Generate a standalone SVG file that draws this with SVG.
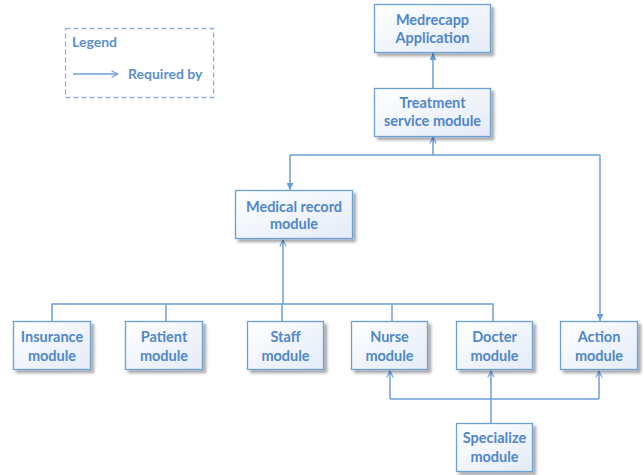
<svg xmlns="http://www.w3.org/2000/svg" width="643" height="475" viewBox="0 0 643 475">
  <style>
    .box { fill: url(#boxFill); stroke: #6b9fd8; stroke-width: 1.3; filter: url(#shadow); }
    .lbl { font-family: Lato, "Open Sans", sans-serif; font-weight: bold; font-size: 14.5px; fill: #4f87ca; text-anchor: middle; }
    .wire { fill: none; stroke: #6b9fd8; stroke-width: 1.5; }
    .legend-txt { font-family: Lato, "Open Sans", sans-serif; font-weight: bold; font-size: 14px; fill: #5a8fcf; }
  </style>
  <defs>
    <linearGradient id="boxFill" x1="0" y1="0" x2="1" y2="1">
      <stop offset="0" stop-color="#ffffff"/>
      <stop offset="1" stop-color="#e3ebf7"/>
    </linearGradient>
    <filter id="shadow" x="-10%" y="-10%" width="130%" height="140%">
      <feGaussianBlur in="SourceAlpha" stdDeviation="1.5"/>
      <feOffset dx="2.5" dy="2.5" result="off"/>
      <feComponentTransfer><feFuncA type="linear" slope="0.35"/></feComponentTransfer>
      <feMerge><feMergeNode/><feMergeNode in="SourceGraphic"/></feMerge>
    </filter>
    <marker id="solid" viewBox="0 0 10 10" refX="10" refY="5" markerWidth="7" markerHeight="7" orient="auto" markerUnits="userSpaceOnUse">
      <path d="M0,0 L10,5 L0,10 z" fill="#6b9fd8"/>
    </marker>
    <marker id="open" viewBox="0 0 10 10" refX="9" refY="5" markerWidth="8" markerHeight="8" orient="auto" markerUnits="userSpaceOnUse">
      <path d="M1,1 L9,5 L1,9" fill="none" stroke="#6b9fd8" stroke-width="1.3"/>
    </marker>
  </defs>

  <!-- legend -->
  <g id="legend">
    <rect x="65.5" y="28.5" width="148" height="69" fill="none" stroke="#8fb3e0" stroke-width="1.3" stroke-dasharray="5,3"/>
    <text class="legend-txt" x="72" y="47">Legend</text>
    <line x1="73" y1="74" x2="118" y2="74" class="wire" stroke-width="1.2" marker-end="url(#open)"/>
    <text class="legend-txt" x="128" y="79">Required by</text>
  </g>

  <!-- connectors -->
  <g id="connectors">
    <line class="wire" x1="433" y1="88" x2="433" y2="53" marker-end="url(#solid)"/>
    <polyline class="wire" points="290,155 600,155"/>
    <line class="wire" x1="433" y1="155" x2="433" y2="137" marker-end="url(#open)"/>
    <polyline class="wire" points="290,155 290,190" marker-end="url(#solid)"/>
    <polyline class="wire" points="600,155 600,321" marker-end="url(#solid)"/>
    <polyline class="wire" points="52,321 52,304 493,304 493,321"/>
    <line class="wire" x1="166" y1="304" x2="166" y2="321"/>
    <line class="wire" x1="282" y1="304" x2="282" y2="321"/>
    <line class="wire" x1="392" y1="304" x2="392" y2="321"/>
    <line class="wire" x1="283" y1="304" x2="283" y2="240" marker-end="url(#open)"/>
    <polyline class="wire" points="390,399 599,399"/>
    <line class="wire" x1="390" y1="399" x2="390" y2="371" marker-end="url(#open)"/>
    <line class="wire" x1="599" y1="399" x2="599" y2="371" marker-end="url(#open)"/>
    <line class="wire" x1="491" y1="423" x2="491" y2="371" marker-end="url(#open)"/>
  </g>

  <g id="medrecapp">
    <rect class="box" x="374.5" y="4.5" width="116" height="48"/>
    <text class="lbl" x="432.5" y="25">Medrecapp</text>
    <text class="lbl" x="432.5" y="43">Application</text>
  </g>
  <g id="treatment">
    <rect class="box" x="374.5" y="88.5" width="116" height="48"/>
    <text class="lbl" x="432.5" y="108">Treatment</text>
    <text class="lbl" x="432.5" y="126">service module</text>
  </g>
  <g id="medical-record">
    <rect class="box" x="235.5" y="190.5" width="117" height="48"/>
    <text class="lbl" x="294" y="212">Medical record</text>
    <text class="lbl" x="294" y="229">module</text>
  </g>
  <g id="insurance">
    <rect class="box" x="13.5" y="321.5" width="77" height="48"/>
    <text class="lbl" x="52" y="342">Insurance</text>
    <text class="lbl" x="52" y="361">module</text>
  </g>
  <g id="patient">
    <rect class="box" x="125.5" y="321.5" width="77" height="48"/>
    <text class="lbl" x="164" y="342">Patient</text>
    <text class="lbl" x="164" y="361">module</text>
  </g>
  <g id="staff">
    <rect class="box" x="247.5" y="321.5" width="76" height="48"/>
    <text class="lbl" x="285.5" y="342">Staff</text>
    <text class="lbl" x="285.5" y="361">module</text>
  </g>
  <g id="nurse">
    <rect class="box" x="351.5" y="321.5" width="76" height="48"/>
    <text class="lbl" x="389.5" y="342">Nurse</text>
    <text class="lbl" x="389.5" y="361">module</text>
  </g>
  <g id="docter">
    <rect class="box" x="456.5" y="321.5" width="76" height="48"/>
    <text class="lbl" x="494.5" y="342">Docter</text>
    <text class="lbl" x="494.5" y="361">module</text>
  </g>
  <g id="action">
    <rect class="box" x="560.5" y="321.5" width="77" height="48"/>
    <text class="lbl" x="599" y="342">Action</text>
    <text class="lbl" x="599" y="361">module</text>
  </g>
  <g id="specialize">
    <rect class="box" x="456.5" y="423.5" width="76" height="48"/>
    <text class="lbl" x="494.5" y="443">Specialize</text>
    <text class="lbl" x="494.5" y="462">module</text>
  </g>
</svg>
